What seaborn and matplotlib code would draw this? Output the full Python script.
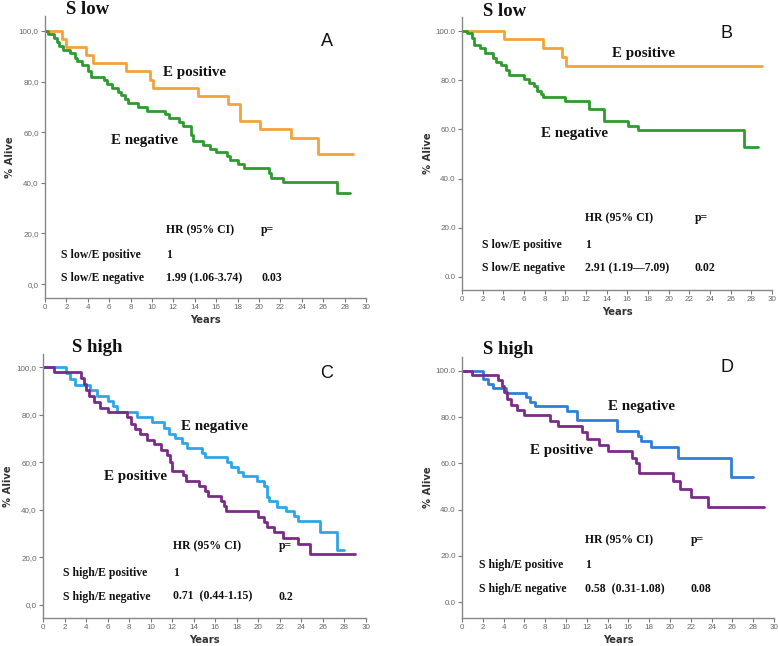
import numpy as np
import pandas as pd
import matplotlib
matplotlib.use("Agg")
import matplotlib.pyplot as plt
from matplotlib.ticker import FuncFormatter
import seaborn as sns

sns.set_theme(style="white")

# ---- datos (tiempo en años, % vivos) ----
# Panel A: S low
a_pos_t = [0, 1.6, 2.0, 3.8, 4.45, 7.6, 9.8, 10.1, 14.3, 17.1, 18.2, 20.1, 23.0, 25.5, 28.8]
a_pos_s = [100, 97.0, 93.8, 90.6, 87.5, 84.2, 80.8, 77.5, 74.3, 71.0, 64.6, 61.3, 57.7, 51.3, 51.3]
a_neg_t = [0, 0.3, 0.8, 1.1, 1.3, 1.7, 2.3, 2.8, 3.0, 3.5, 4.0, 4.3, 5.5, 5.8, 6.3, 6.8, 7.1,
           7.5, 7.8, 8.7, 9.5, 11.2, 11.6, 12.5, 12.9, 13.6, 13.8, 14.8, 15.4, 16.0, 17.0, 17.3,
           18.0, 18.6, 20.9, 21.1, 22.2, 27.3, 28.5]
a_neg_s = [100, 98.7, 97.2, 95.7, 94.2, 92.6, 91.1, 89.5, 88.0, 86.4, 84.0, 82.0, 80.5, 79.0,
           77.5, 76.0, 74.5, 73.0, 71.5, 70.0, 68.5, 67.0, 65.5, 64.0, 62.5, 59.0, 56.5, 55.0,
           53.5, 52.0, 50.5, 49.0, 47.5, 46.0, 44.0, 42.0, 40.2, 35.8, 35.8]

# Panel B: S low
b_pos_t = [0, 4.1, 7.8, 9.7, 10.1, 29.0]
b_pos_s = [100, 96.6, 93.2, 89.4, 85.8, 85.8]
b_neg_t = [0, 0.5, 1.0, 1.2, 1.7, 2.2, 3.0, 3.3, 3.8, 4.3, 4.5, 6.0, 6.5, 7.0, 7.3, 7.6, 7.8,
           10.0, 12.3, 13.7, 16.1, 17.0, 27.3, 28.6]
b_neg_s = [100, 99.0, 97.0, 94.5, 93.0, 91.0, 89.0, 87.5, 86.0, 84.0, 82.0, 80.5, 79.0, 77.5,
           75.8, 74.3, 73.0, 71.5, 68.3, 63.5, 61.5, 59.8, 53.0, 53.0]

# Panel C: S high
c_neg_t = [0, 2.1, 2.5, 3.0, 4.4, 5.0, 6.0, 6.5, 6.9, 8.7, 10.1, 11.2, 11.7, 12.3, 12.9, 13.4,
           14.8, 15.0, 17.1, 17.5, 18.1, 18.6, 19.9, 20.5, 20.8, 21.0, 21.7, 22.6, 23.3, 23.7,
           25.7, 27.3, 28.0]
c_neg_s = [100, 97.5, 95.0, 92.5, 90.2, 88.0, 85.7, 83.5, 81.2, 79.2, 77.0, 74.5, 72.0, 70.0,
           68.0, 66.0, 64.0, 62.0, 60.0, 58.0, 56.0, 54.0, 52.0, 50.0, 45.5, 43.5, 41.3, 39.5,
           37.5, 35.2, 30.8, 23.2, 23.2]
c_pos_t = [0, 1.0, 3.5, 3.8, 4.0, 4.3, 4.7, 5.3, 6.0, 7.8, 8.2, 8.5, 9.0, 9.7, 10.3, 11.0, 11.5,
           11.8, 12.0, 13.0, 13.3, 14.5, 15.0, 15.3, 16.5, 16.8, 17.0, 20.0, 20.5, 20.8, 21.5,
           22.3, 23.7, 24.8, 29.0]
c_pos_s = [100, 97.8, 95.5, 93.0, 90.5, 88.0, 85.3, 83.0, 81.0, 79.0, 76.0, 74.0, 72.0, 69.5,
           67.5, 65.3, 63.0, 60.0, 56.5, 54.5, 52.0, 50.0, 48.0, 46.0, 43.5, 41.5, 39.3, 37.0,
           35.0, 32.8, 30.5, 28.2, 25.8, 21.5, 21.5]

# Panel D: S high
d_neg_t = [0, 2.0, 2.5, 3.0, 4.2, 6.2, 6.5, 7.0, 10.1, 11.1, 14.9, 16.9, 17.2, 18.2, 20.8, 25.9, 28.0]
d_neg_s = [100, 96.5, 94.5, 92.5, 90.5, 88.5, 86.5, 84.7, 82.7, 78.8, 74.2, 71.8, 69.5, 67.2,
           62.3, 54.3, 54.3]
d_pos_t = [0, 1.0, 3.5, 3.8, 4.0, 4.3, 4.7, 5.3, 6.0, 8.5, 9.2, 11.5, 12.0, 13.2, 14.0, 16.3,
           16.7, 17.0, 20.3, 21.0, 22.0, 23.7, 29.0]
d_pos_s = [100, 98.0, 96.0, 93.5, 91.0, 88.0, 85.3, 83.0, 81.0, 78.5, 76.0, 73.5, 70.7, 68.0,
           65.3, 62.5, 60.0, 56.0, 52.5, 49.0, 45.5, 41.3, 41.3]

x_ticks = list(range(0, 31, 2))
y_ticks = [0, 20, 40, 60, 80, 100]

# ---- colores ----
c_orange = "#f2a33a"
c_green = "#2f9b2f"
c_lightblue = "#2ea6e6"
c_blue = "#2f7fd9"
c_purple = "#7a2c88"

W, H = 778, 646
fig = plt.figure(figsize=(W / 100, H / 100), dpi=100)

SERIF = "Liberation Serif"
SANS = "Liberation Sans"


def make_ax(left, top, right, bottom):
    """Crea un eje a partir de coordenadas en píxeles."""
    return fig.add_axes([left / W, 1 - bottom / H, (right - left) / W, (bottom - top) / H])


def df_de(*curvas):
    return pd.concat([pd.DataFrame({"t": t, "s": s, "grupo": g}) for g, t, s in curvas],
                     ignore_index=True)


def draw(ax, df, palette, ylim, decimal, labpad):
    sns.lineplot(data=df, x="t", y="s", hue="grupo", palette=palette, drawstyle="steps-post",
                 errorbar=None, estimator=None, sort=False, linewidth=2.0, legend=False, ax=ax)
    ax.set_xlim(0, 30)
    ax.set_ylim(*ylim)
    ax.set_xticks(x_ticks)
    ax.set_yticks(y_ticks)
    ax.yaxis.set_major_formatter(FuncFormatter(lambda v, p: f"{v:.1f}".replace(".", decimal)))
    ax.tick_params(axis="both", direction="out", length=3, width=0.8, color="#777777",
                   labelsize=5.8, labelcolor="#666666", pad=1.5, left=True, bottom=True)
    for lbl in ax.get_xticklabels() + ax.get_yticklabels():
        lbl.set_family(SANS)
    for sp in ["top", "right"]:
        ax.spines[sp].set_visible(False)
    for sp in ["left", "bottom"]:
        ax.spines[sp].set_color("#888888")
        ax.spines[sp].set_linewidth(1.0)
    ax.set_xlabel("Years", fontsize=7.2, fontweight="bold", color="#333333",
                  family="DejaVu Sans", labelpad=3)
    ax.set_ylabel("% Alive", fontsize=7.2, fontweight="bold", color="#333333",
                  family="DejaVu Sans", labelpad=labpad)
    ax.patch.set_alpha(0)


def tabla(ax, filas, xs, ys):
    for fila, y in zip(filas, ys):
        for txt, x in zip(fila, xs):
            if txt:
                ax.text(x, y, txt, fontsize=8.5, fontweight="bold", family=SERIF,
                        ha="left", va="center", color="#111111")


def etiqueta(ax, x, y, txt):
    ax.text(x, y, txt, fontsize=10.8, fontweight="bold", family=SERIF, va="center",
            color="#111111")


# ---- Panel A ----
axA = make_ax(45, 16, 366, 298)
draw(axA, df_de(("pos", a_pos_t, a_pos_s), ("neg", a_neg_t, a_neg_s)),
     {"pos": c_orange, "neg": c_green}, (-5.5, 105.9), ",", 2.5)
etiqueta(axA, 11.0, 83.4, "E positive")
etiqueta(axA, 6.2, 56.6, "E negative")
tabla(axA, [["", "HR (95% CI)", "p="], ["S low/E positive", "1", ""],
            ["S low/E negative", "1.99 (1.06-3.74)", "0.03"]],
      [1.5, 11.3, 20.2], [21.4, 11.6, 2.4])

# ---- Panel B ----
axB = make_ax(462, 17, 772, 290)
draw(axB, df_de(("pos", b_pos_t, b_pos_s), ("neg", b_neg_t, b_neg_s)),
     {"pos": c_orange, "neg": c_green}, (-5.3, 105.7), ".", 2)
etiqueta(axB, 14.5, 91.0, "E positive")
etiqueta(axB, 7.6, 58.2, "E negative")
tabla(axB, [["", "HR (95% CI)", "p="], ["S low/E positive", "1", ""],
            ["S low/E negative", "2.91 (1.19\u20147.09)", "0.02"]],
      [1.9, 11.9, 22.5], [24.0, 13.1, 3.7])

# ---- Panel C ----
axC = make_ax(43, 354, 366, 618)
draw(axC, df_de(("neg", c_neg_t, c_neg_s), ("pos", c_pos_t, c_pos_s)),
     {"neg": c_lightblue, "pos": c_purple}, (-5.5, 105.5), ",", 2.5)
etiqueta(axC, 12.8, 74.9, "E negative")
etiqueta(axC, 5.7, 53.8, "E positive")
tabla(axC, [["", "HR (95% CI)", "p="], ["S high/E positive", "1", ""],
            ["S high/E negative", "0.71  (0.44-1.15)", "0.2"]],
      [1.9, 12.1, 21.9], [24.6, 13.6, 3.5])

# ---- Panel D ----
axD = make_ax(462, 357, 774, 618)
draw(axD, df_de(("neg", d_neg_t, d_neg_s), ("pos", d_pos_t, d_pos_s)),
     {"neg": c_blue, "pos": c_purple}, (-6.9, 106.0), ".", 2)
etiqueta(axD, 14.0, 84.6, "E negative")
etiqueta(axD, 6.5, 65.4, "E positive")
tabla(axD, [["", "HR (95% CI)", "p="], ["S high/E positive", "1", ""],
            ["S high/E negative", "0.58  (0.31-1.08)", "0.08"]],
      [1.6, 11.8, 22.0], [26.8, 16.0, 5.5])

# ---- titulos y letras de panel (en pixeles de figura) ----
for txt, x, y in [("S low", 88, 10), ("S low", 505, 12), ("S high", 97, 348), ("S high", 508, 350)]:
    fig.text(x / W, 1 - y / H, txt, fontsize=13.5, fontweight="bold", family=SERIF,
             ha="center", va="center", color="#111111")
for txt, x, y in [("A", 327, 41), ("B", 727, 33), ("C", 327, 373), ("D", 727, 368)]:
    fig.text(x / W, 1 - y / H, txt, fontsize=13, family=SANS, ha="center", va="center",
             color="#111111")

fig.savefig("out.png", dpi=100, facecolor="white")
